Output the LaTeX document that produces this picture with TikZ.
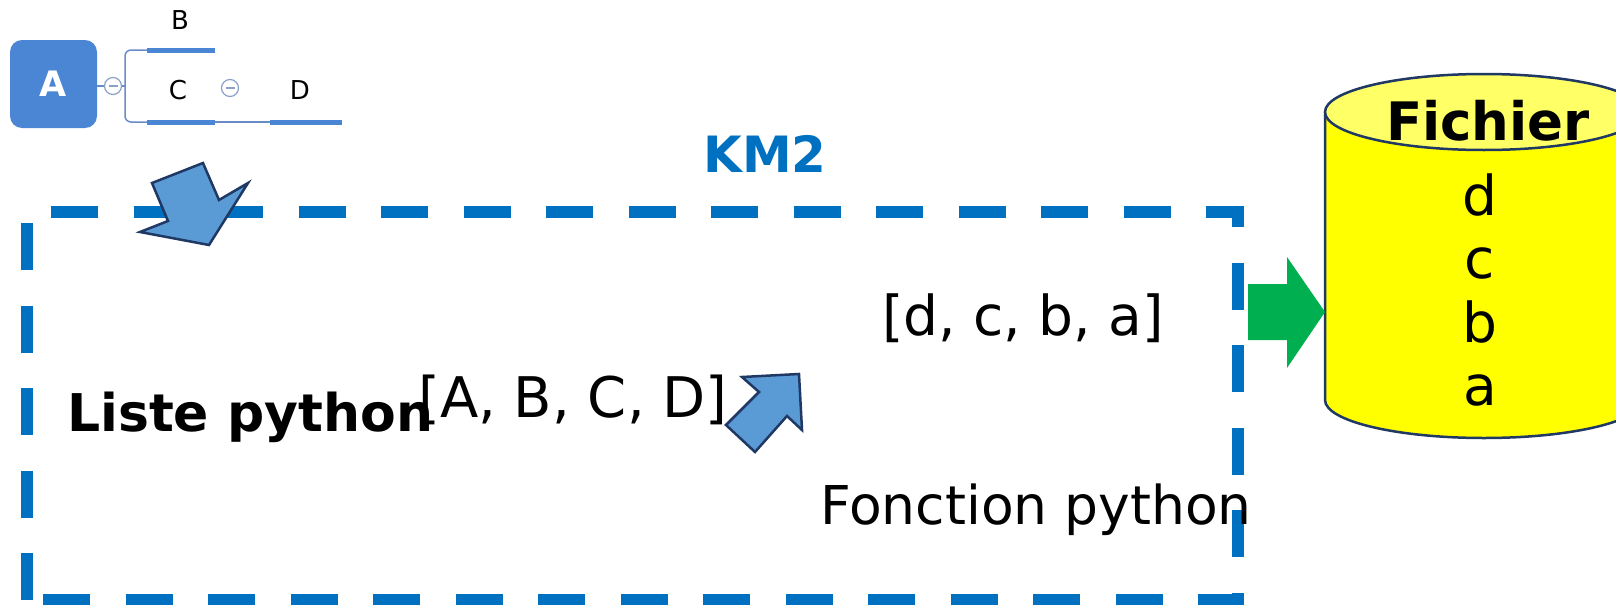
\documentclass[tikz,border=0pt]{standalone}
\usepackage{fontspec}
\usetikzlibrary{calc}
\setmainfont{DejaVu Sans}
\definecolor{kmblue}{RGB}{0,112,192}
\definecolor{arrowfill}{RGB}{91,155,213}
\definecolor{navy}{RGB}{31,56,100}
\definecolor{okgreen}{RGB}{0,176,80}
\definecolor{mapblue}{RGB}{74,134,212}
\definecolor{mapline}{RGB}{105,140,200}
\definecolor{mapcircle}{RGB}{140,160,200}
\definecolor{filebody}{RGB}{255,255,0}
\definecolor{toplid}{RGB}{255,255,102}
\begin{document}
\begin{tikzpicture}[x=1pt,y=-1pt,
  txt/.style={inner sep=0pt,anchor=base west,font=\fontsize{55}{60}\selectfont},
  maplabel/.style={inner sep=0pt,font=\fontsize{26}{28}\selectfont},
  bar/.style={line width=5pt,mapblue},
  thin/.style={line width=1.5pt,mapline},
  fold/.style={circle,draw=mapcircle,line width=1.2pt,minimum size=17pt,inner sep=0pt},
  blockarrow/.style={fill=arrowfill,draw=navy,line width=2.5pt,line join=miter},
  frame/.style={kmblue,line width=11.5pt,dash pattern=on 47pt off 35.5pt}]
\useasboundingbox (0,0) rectangle (1616,605);
\clip (0,0) rectangle (1616,605);
\fill[white] (0,0) rectangle (1616,605);

% --- small mind map: A -> B, C -> D ---
\node[fill=mapblue,rounded corners=12pt,minimum width=87pt,minimum height=88pt,
      inner sep=0pt,text=white,font=\bfseries\fontsize{35}{38}\selectfont]
      (mA) at (53.5,84) {A};
\node[fold] (f1) at (113,86) {};
\draw[mapcircle,line width=1.2pt] ($(f1)+(-4.5,0)$) -- ($(f1)+(4.5,0)$);
\draw[thin] (mA.east |- f1) -- (f1.west);
\coordinate (br) at (125,86);
\draw[thin] (f1.east) -- (br);
\draw[thin,rounded corners=6pt] (147,50) -- (125,50) -- (125,122) -- (147,122);
\draw[bar] (147,50) -- (215,50);
\draw[bar] (147,122) -- (215,122);
\draw[thin] (215,122) -- (270,122);
\draw[bar] (270,122) -- (342,122);
\node[fold] (f2) at (230,88) {};
\draw[mapcircle,line width=1.2pt] ($(f2)+(-4.5,0)$) -- ($(f2)+(4.5,0)$);
\node[maplabel] (mB) at (180,20) {B};
\node[maplabel] (mC) at (178,90) {C};
\node[maplabel] (mD) at (300,90) {D};

% --- dashed module frame ---
\draw[frame,dash phase=58.5pt] (27,212) -- (1238,212) -- (1238,599.5) -- (27,599.5);
\draw[frame,dash phase=71.5pt] (27,212) -- (27,599.5);
\node[inner sep=0pt,anchor=base,text=kmblue,font=\bfseries\fontsize{50}{56}\selectfont]
  (km) at (765,172) {KM2};

% --- block arrows ---
\draw[blockarrow] (152,183) -- (203,163) -- (219,200) -- (248,183) -- (209,245)
  -- (140,232) -- (168,221) -- cycle;
\draw[blockarrow] (742,377) -- (799,374) -- (802,430) -- (787,416) -- (755,452)
  -- (726,425) -- (759,392) -- cycle;

% --- texts inside the frame ---
\node[txt,font=\bfseries\fontsize{52}{58}\selectfont] (lst) at (67,431) {Liste python};
\node[txt,font=\fontsize{56}{60}\selectfont] (up) at (418,417) {[A, B, C, D]};
\node[txt] (low) at (882,335) {[d, c, b, a]};
\node[txt,font=\fontsize{53.5}{60}\selectfont] (fn) at (820,524) {Fonction python};

% --- output file (cylinder) ---
\fill[filebody] (1325,112) -- (1325,400)
  arc[start angle=180,end angle=360,x radius=159pt,y radius=38pt]
  -- (1643,112) -- cycle;
\draw[navy,line width=2.5pt] (1325,112) -- (1325,400)
  arc[start angle=180,end angle=360,x radius=159pt,y radius=38pt] -- (1643,112);
\draw[navy,line width=2.5pt,fill=toplid] (1484,112) ellipse[x radius=159pt,y radius=38pt];
\node[inner sep=0pt,anchor=base,font=\bfseries\fontsize{53}{58}\selectfont]
  (fich) at (1488,140) {Fichier};
\foreach \t/\yy in {d/215,c/278,b/342,a/405}
  \node[inner sep=0pt,anchor=base,font=\fontsize{55}{60}\selectfont]
    (f\t) at (1480,\yy) {\t};

% --- green arrow to the file ---
\coordinate (gtip) at (1325,312);
\fill[okgreen] (1248,284) -- (1287,284) -- (1287,257) -- (gtip) -- (1287,368)
  -- (1287,340) -- (1248,340) -- cycle;
\end{tikzpicture}
\end{document}
